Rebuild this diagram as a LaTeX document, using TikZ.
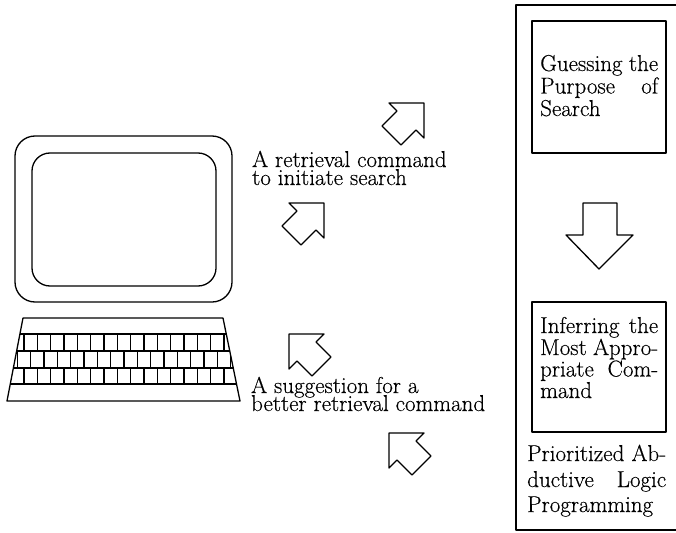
\documentclass[tikz,border=0pt]{standalone}
\usepackage{fontspec}
\newfontfamily\capfont{Latin Modern Roman}[FakeBold=0.4]
\begin{document}
\begin{tikzpicture}[x=1pt,y=-1pt,line join=round,
  outline/.style={draw=black,line width=1.3pt},
  keyline/.style={line width=1.1pt},
  txt/.style={inner sep=0pt,anchor=base west,font=\capfont\fontsize{23}{20}\selectfont},
  blockarrow/.pic={\draw[outline] (0,0) -- (-35,0) -- (-27,8) -- (-42,23)
      -- (-23,42) -- (-8,27) -- (0,35) -- cycle;}]
\useasboundingbox (0,0) rectangle (676,532);

% monitor
\draw[outline,rounded corners=20pt] (15,136) rectangle (232,302);
\draw[outline,rounded corners=18pt] (32,153) rectangle (216,286);

% keyboard
\coordinate (kbTL) at (23,318);
\coordinate (kbTR) at (223,318);
\coordinate (kbBR) at (240,401);
\coordinate (kbBL) at (7,401);
\draw[outline] (kbTL) -- (kbTR) -- (kbBR) -- (kbBL) -- cycle;
\begin{scope}
  \clip (kbTL) -- (kbTR) -- (kbBR) -- (kbBL) -- cycle;
  \foreach \y in {334,351,368,384} \draw[keyline] (0,\y) -- (250,\y);
  \foreach \k in {0,...,15} {
    \draw[keyline] ({24+13.333*\k},334) -- ++(0,17);
    \draw[keyline] ({24+13.333*\k},368) -- ++(0,16);
  }
  \foreach \k in {0,...,16} \draw[keyline] ({17.3+13.333*\k},351) -- ++(0,17);
\end{scope}

% block arrows between user and system
\pic at (424,103) {blockarrow};
\pic at (324,203) {blockarrow};
\pic[xscale=-1] at (289,334) {blockarrow};
\pic[xscale=-1] at (389,433) {blockarrow};

% captions
\node[txt] (c1) at (252,167) {A retrieval command};
\node[txt] (c2) at (252,185) {to initiate search};
\node[txt] (s1) at (251,393) {A suggestion for a};
\node[txt] (s2) at (251,411) {better retrieval command};

% reasoning panel
\draw[outline] (516,5) rectangle (700,530);
\draw[outline] (532,21) rectangle (666,153);
\draw[outline] (532,302) rectangle (666,432);
\draw[outline] (583,203) -- (617,203) -- (617,235) -- (633,235) -- (599,269)
  -- (566,235) -- (583,235) -- cycle;

\node[txt] (g1) at (540,71) {\makebox[118pt][s]{Guessing the}};
\node[txt] (g2) at (540,93.5) {\makebox[118pt][s]{Purpose of}};
\node[txt] (g3) at (540,116) {Search};

\node[txt] (i1) at (540,333) {\makebox[118pt][s]{Inferring the}};
\node[txt] (i2) at (540,355) {\makebox[118pt][s]{Most Appro-}};
\node[txt] (i3) at (540,376.5) {\makebox[118pt][s]{priate Com-}};
\node[txt] (i4) at (540,398) {mand};

\node[txt] (p1) at (527,461) {\makebox[139pt][s]{Prioritized Ab-}};
\node[txt] (p2) at (527,487) {\makebox[139pt][s]{ductive Logic}};
\node[txt] (p3) at (527,512) {Programming};
\end{tikzpicture}
\end{document}
